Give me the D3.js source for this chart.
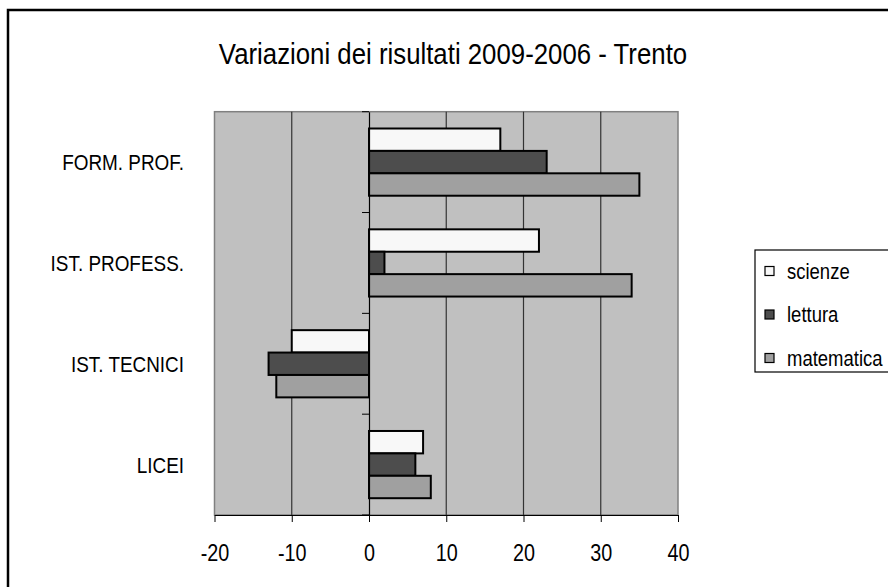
<!DOCTYPE html>
<html>
<head>
<meta charset="utf-8">
<script src="https://cdn.jsdelivr.net/npm/d3@7"></script>
<style>
  html, body { margin: 0; padding: 0; background: #fff; overflow: hidden; }
  svg { display: block; font-family: "Liberation Sans", Arial, sans-serif; }
</style>
</head>
<body>
<div id="chart"></div>
<script>
const categories = ["FORM. PROF.", "IST. PROFESS.", "IST. TECNICI", "LICEI"]
const series = ["scienze", "lettura", "matematica"]
const scienze = [17, 22, -10, 7]
const lettura = [23, 2, -13, 6]
const matematica = [35, 34, -12, 8]
const xTicks = [-20, -10, 0, 10, 20, 30, 40]

const width = 888
const height = 587
const colors = {
    scienze: '#f8f8f8',
    lettura: '#4d4d4d',
    matematica: '#a0a0a0',
}
const values = { scienze, lettura, matematica }

const plot = { left: 214.5, right: 678, top: 111.7, bottom: 515 }
// the original font is a condensed arial, squeeze text horizontally
const narrow = 0.86

const svg = d3.select("#chart")
    .append("svg")
    .attr("width", width)
    .attr("height", height)

// outer chart frame, only top and left edges are visible
svg.append("rect")
    .attr("x", 8).attr("y", 10)
    .attr("width", width + 20).attr("height", height + 20)
    .attr("fill", "#fff")
    .attr("stroke", "#000")
    .attr("stroke-width", 2.5)

svg.append("text")
    .attr("transform", `translate(453, 64) scale(${narrow}, 1)`)
    .attr("text-anchor", "middle")
    .style("font-size", "30px")
    .text("Variazioni dei risultati 2009-2006 - Trento")

const x = d3.scaleLinear().domain([-20, 40]).range([plot.left, plot.right])
const y = d3.scaleBand().domain(categories).range([plot.top, plot.bottom])
const ySub = d3.scaleBand().domain(series).range([0, y.bandwidth()]).paddingOuter(0.75)

// plot background
svg.append("rect")
    .attr("x", plot.left).attr("y", plot.top)
    .attr("width", plot.right - plot.left).attr("height", plot.bottom - plot.top)
    .attr("fill", "#c0c0c0")
    .attr("stroke", "#808080")
    .attr("stroke-width", 1.5)

// gridlines
svg.append("g")
    .selectAll("line")
    .data(xTicks.filter(t => t !== -20 && t !== 40 && t !== 0))
    .enter()
    .append("line")
    .attr("x1", d => x(d)).attr("x2", d => x(d))
    .attr("y1", plot.top).attr("y2", plot.bottom)
    .attr("stroke", "#333")
    .attr("stroke-width", 1.2)

// bars
const group = svg.append("g")
    .selectAll("g")
    .data(categories)
    .enter()
    .append("g")
    .attr("transform", d => `translate(0, ${y(d)})`)

group.selectAll("rect")
    .data((c, i) => series.map(s => ({ s, v: values[s][i] })))
    .enter()
    .append("rect")
    .attr("x", d => x(Math.min(0, d.v)))
    .attr("width", d => Math.abs(x(d.v) - x(0)))
    .attr("y", d => ySub(d.s))
    .attr("height", ySub.bandwidth())
    .attr("fill", d => colors[d.s])
    .attr("stroke", "#000")
    .attr("stroke-width", 2)

// vertical axis at zero
const yAxis = svg.append("g")
    .attr("transform", `translate(${x(0)}, 0)`)
    .call(d3.axisLeft(y).tickSize(0).tickFormat(""))
yAxis.select(".domain").attr("stroke", "#000").attr("stroke-width", 1.2)
yAxis.selectAll(".band-tick")
    .data(d3.range(categories.length + 1))
    .enter()
    .append("line")
    .attr("class", "band-tick")
    .attr("x1", -7).attr("x2", 0)
    .attr("y1", i => plot.top + i * y.step())
    .attr("y2", i => plot.top + i * y.step())
    .attr("stroke", "#000")

// category labels
svg.append("g")
    .selectAll("text")
    .data(categories)
    .enter()
    .append("text")
    .attr("transform", d => `translate(184, ${y(d) + y.bandwidth() / 2}) scale(${narrow}, 1)`)
    .attr("dy", "0.36em")
    .attr("text-anchor", "end")
    .style("font-size", "22px")
    .text(d => d)

// bottom axis
const xAxis = svg.append("g")
    .attr("transform", `translate(0, ${plot.bottom})`)
    .call(d3.axisBottom(x).tickValues(xTicks).tickSize(7).tickSizeOuter(0).tickFormat(d => String(d)))
xAxis.select(".domain").attr("stroke", "#000").attr("stroke-width", 1.2)
xAxis.selectAll("line").attr("stroke", "#000")
xAxis.selectAll("text")
    .attr("y", 0)
    .attr("dy", 0)
    .attr("transform", `translate(0, 46) scale(${narrow}, 1)`)
    .style("font-size", "23px")
    .style("font-family", "'Liberation Sans', Arial, sans-serif")
    .attr("fill", "#000")

// legend
const legend = svg.append("g")
legend.append("rect")
    .attr("x", 755).attr("y", 250)
    .attr("width", 160).attr("height", 122)
    .attr("fill", "#fff")
    .attr("stroke", "#000")
    .attr("stroke-width", 1.2)

const item = legend.selectAll(".item")
    .data(series)
    .enter()
    .append("g")
    .attr("class", "item")
    .attr("transform", (d, i) => `translate(765, ${271 + i * 43.5})`)

item.append("rect")
    .attr("x", 0).attr("y", -4.5)
    .attr("width", 9).attr("height", 9)
    .attr("fill", d => colors[d])
    .attr("stroke", "#000")
    .attr("stroke-width", 1.2)

item.append("text")
    .attr("transform", `translate(22, 0) scale(${narrow}, 1)`)
    .attr("dy", "0.36em")
    .style("font-size", "21.5px")
    .text(d => d)
</script>
</body>
</html>
